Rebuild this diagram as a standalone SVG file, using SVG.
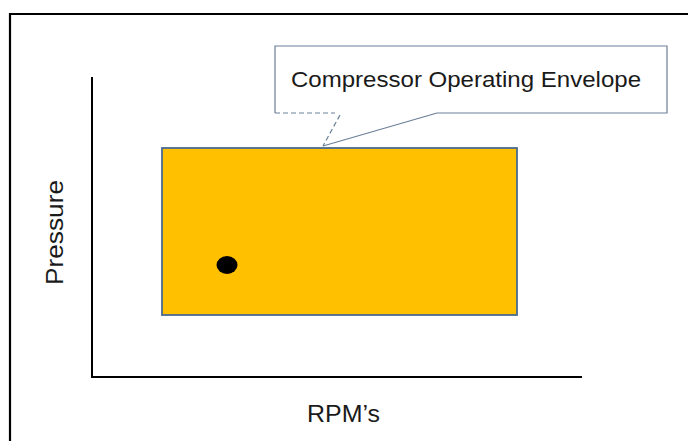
<svg xmlns="http://www.w3.org/2000/svg" width="688" height="441" viewBox="0 0 688 441">
  <style>
    .label { font-family: "Liberation Sans", Arial, sans-serif; fill: #1a1a1a; }
    .axis { stroke: #000; stroke-width: 2; fill: none; }
    .callout { stroke: #6b7f99; stroke-width: 1.2; fill: none; }
  </style>
  <rect x="0" y="0" width="688" height="441" fill="#fff"/>
  <!-- outer frame -->
  <path d="M10,441 V14 H688" fill="none" stroke="#000" stroke-width="2.2"/>

  <!-- axes -->
  <g id="axes">
    <path class="axis" d="M92,77 V377 H582"/>
    <text class="label" x="0" y="0" font-size="23" textLength="105" lengthAdjust="spacingAndGlyphs" transform="translate(63,285) rotate(-90)">Pressure</text>
    <text class="label" x="307" y="422" font-size="24" textLength="73" lengthAdjust="spacingAndGlyphs">RPM’s</text>
  </g>

  <!-- operating envelope -->
  <g id="envelope">
    <rect x="162" y="148" width="355" height="167" fill="#ffc000" stroke="#4a6a8f" stroke-width="1.8"/>
  </g>

  <!-- operating point -->
  <g id="point">
    <ellipse cx="227" cy="265" rx="10.5" ry="9" fill="#000"/>
  </g>

  <!-- callout label -->
  <g id="callout">
    <rect x="275" y="46" width="392" height="67" fill="#fff" stroke="none"/>
    <path class="callout" d="M437,113 H667 V46 H275 V113"/>
    <path class="callout" d="M275,113 H335 M340,115 L323,146" stroke-dasharray="5,3"/>
    <path class="callout" d="M323,146 L437,113"/>
    <text class="label" x="291" y="87" font-size="22" textLength="350" lengthAdjust="spacingAndGlyphs">Compressor Operating Envelope</text>
  </g>
</svg>
